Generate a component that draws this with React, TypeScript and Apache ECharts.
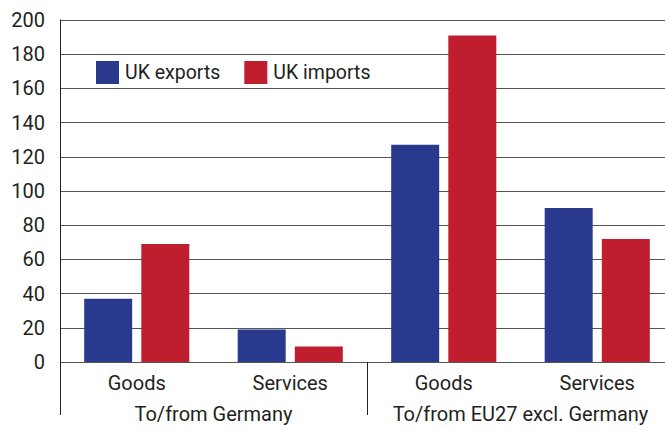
import React, { useEffect, useRef } from "react";
import * as echarts from "echarts";

const categories = ["Goods", "Services", "Goods", "Services"];
const groups = ["To/from Germany", "To/from EU27 excl. Germany"];
const ukExports = [37, 19, 127, 90];
const ukImports = [69, 9, 191, 72];
const seriesNames = ["UK exports", "UK imports"];

const FONT = "Roboto";
const TXT = "#231f20";

export default function App() {
  const ref = useRef<HTMLDivElement>(null);
  useEffect(() => {
    if (!ref.current) return;
    const chart = echarts.init(ref.current, undefined, { renderer: "svg" });
    chart.setOption({
      animation: false,
      textStyle: { fontFamily: FONT },
      legend: {
        left: 96,
        top: 61,
        padding: 0,
        itemWidth: 23,
        itemHeight: 23,
        itemGap: 24,
        icon: "rect",
        textStyle: { fontFamily: FONT, fontSize: 19.5, color: TXT, padding: [0, 0, 0, 1] },
        data: seriesNames,
      },
      grid: { left: 60, right: 0, top: 20, bottom: 68, containLabel: false },
      xAxis: [
        {
          type: "category",
          data: categories,
          position: "bottom",
          axisLine: { show: false },
          axisTick: { show: false },
          axisLabel: { fontFamily: FONT, fontSize: 20, color: TXT, margin: 11, interval: 0 },
        },
        {
          type: "category",
          data: groups,
          position: "bottom",
          offset: 0,
          axisLine: { show: false },
          axisTick: { show: true, interval: 0, length: 53, lineStyle: { color: "#222", width: 1 } },
          axisLabel: { fontFamily: FONT, fontSize: 20, color: TXT, margin: 42, interval: 0 },
        },
      ],
      yAxis: {
        type: "value",
        min: 0,
        max: 200,
        interval: 20,
        axisLine: { show: true, lineStyle: { color: "#222", width: 1 } },
        axisTick: { show: false },
        axisLabel: { fontFamily: FONT, fontSize: 20, color: TXT, margin: 15 },
        splitLine: { show: true, lineStyle: { color: "#555", width: 1 } },
      },
      series: [
        {
          name: seriesNames[0],
          type: "bar",
          xAxisIndex: 0,
          data: ukExports,
          barWidth: 48,
          barGap: "19%",
          itemStyle: { color: "#29398e" },
        },
        {
          name: seriesNames[1],
          type: "bar",
          xAxisIndex: 0,
          data: ukImports,
          barWidth: 48,
          barGap: "19%",
          itemStyle: { color: "#be1e2d" },
        },
      ],
    });
    return () => chart.dispose();
  }, []);
  return (
    <div
      style={{ position: "fixed", left: 0, top: 0, width: 665, height: 430, overflow: "hidden", background: "#fff" }}
    >
      <div ref={ref} style={{ width: 674, height: 430 }} />
    </div>
  );
}
